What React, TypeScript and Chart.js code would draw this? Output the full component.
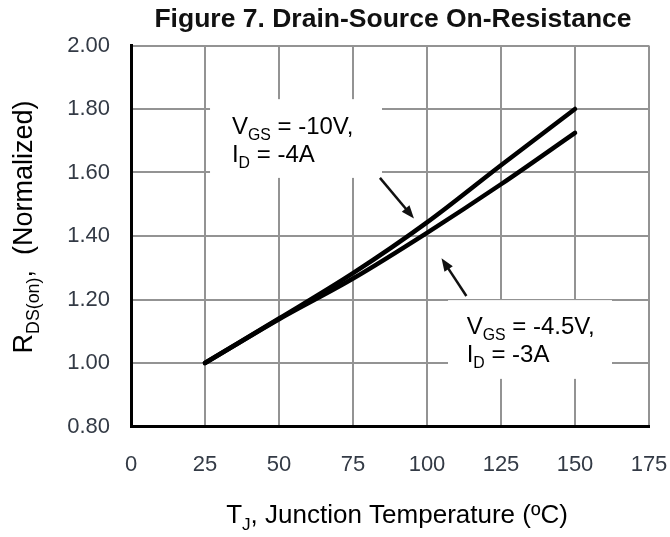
import React, { useEffect, useRef } from 'react';
import { Chart, registerables } from 'chart.js';

Chart.register(...registerables);

// ---- data ----
const temperatures = [25, 50, 75, 100, 125, 150];
const rdsVgs10 = [1.0, 1.14, 1.283, 1.443, 1.623, 1.8];
const rdsVgs45 = [1.0, 1.138, 1.266, 1.41, 1.563, 1.725];
const xTickValues = [0, 25, 50, 75, 100, 125, 150, 175];
const yTickValues = [0.8, 1.0, 1.2, 1.4, 1.6, 1.8, 2.0];

const chartTitle = 'Figure 7. Drain-Source On-Resistance';

type Seg = { t: string; sub?: boolean };
const xTitleSegs: Seg[] = [{ t: 'T' }, { t: 'J', sub: true }, { t: ', Junction Temperature (\u00BAC)' }];
const yTitleSegs: Seg[] = [{ t: 'R' }, { t: 'DS(on)', sub: true }, { t: ',  (Normalized)' }];

const note1Lines: Seg[][] = [
  [{ t: 'V' }, { t: 'GS', sub: true }, { t: ' = -10V,' }],
  [{ t: 'I' }, { t: 'D', sub: true }, { t: ' = -4A' }],
];
const note2Lines: Seg[][] = [
  [{ t: 'V' }, { t: 'GS', sub: true }, { t: ' = -4.5V,' }],
  [{ t: 'I' }, { t: 'D', sub: true }, { t: ' = -3A' }],
];
// annotation geometry in data units (x: °C, y: normalized R)
const note1Box = [26.7, 1.831, 84.8, 1.583];
const note1Text = [34.1, 1.721];
const note2Box = [107.1, 1.198, 162.5, 0.95];
const note2Text = [113.4, 1.091];
const arrow1 = [84.1, 1.583, 95.6, 1.455];
const arrow2 = [113.3, 1.211, 104.9, 1.33];

const FONT = '"Liberation Sans", Arial, Helvetica, sans-serif';
const TICK_COLOR = '#333a45';
const GRID_COLOR = '#939393';

function font(size: number, bold = false) {
  return `${bold ? 'bold ' : ''}${size}px ${FONT}`;
}

function richWidth(ctx: CanvasRenderingContext2D, segs: Seg[], size: number) {
  let w = 0;
  for (const s of segs) {
    ctx.font = font(s.sub ? size * 0.66 : size);
    w += ctx.measureText(s.t).width;
  }
  return w;
}

function drawRich(ctx: CanvasRenderingContext2D, segs: Seg[], x: number, y: number, size: number) {
  let cx = x;
  ctx.textBaseline = 'alphabetic';
  ctx.textAlign = 'left';
  for (const s of segs) {
    ctx.font = font(s.sub ? size * 0.66 : size);
    ctx.fillText(s.t, cx, s.sub ? y + size * 0.26 : y);
    cx += ctx.measureText(s.t).width;
  }
}

function drawArrow(ctx: CanvasRenderingContext2D, x1: number, y1: number, x2: number, y2: number) {
  const ang = Math.atan2(y2 - y1, x2 - x1);
  const head = 13;
  const half = 5;
  ctx.strokeStyle = '#111';
  ctx.fillStyle = '#111';
  ctx.lineWidth = 2.5;
  ctx.beginPath();
  ctx.moveTo(x1, y1);
  ctx.lineTo(x2 - Math.cos(ang) * head * 0.8, y2 - Math.sin(ang) * head * 0.8);
  ctx.stroke();
  ctx.beginPath();
  ctx.moveTo(x2, y2);
  ctx.lineTo(x2 - Math.cos(ang) * head + Math.sin(ang) * half, y2 - Math.sin(ang) * head - Math.cos(ang) * half);
  ctx.lineTo(x2 - Math.cos(ang) * head - Math.sin(ang) * half, y2 - Math.sin(ang) * head + Math.cos(ang) * half);
  ctx.closePath();
  ctx.fill();
}

const annotationPlugin = {
  id: 'figureAnnotations',
  beforeDatasetsDraw(chart: any) {
    const { ctx, scales } = chart;
    const xs = scales.x;
    const ys = scales.y;
    ctx.save();
    ctx.fillStyle = '#ffffff';
    for (const b of [note1Box, note2Box]) {
      const x0 = xs.getPixelForValue(b[0]);
      const y0 = ys.getPixelForValue(b[1]);
      const x1 = xs.getPixelForValue(b[2]);
      const y1 = ys.getPixelForValue(b[3]);
      ctx.fillRect(x0, y0, x1 - x0, y1 - y0);
    }
    ctx.restore();
  },
  afterDraw(chart: any) {
    const { ctx, scales, chartArea } = chart;
    const xs = scales.x;
    const ys = scales.y;
    ctx.save();
    ctx.fillStyle = '#000';
    const notes: [Seg[][], number[]][] = [
      [note1Lines, note1Text],
      [note2Lines, note2Text],
    ];
    for (const [lines, pos] of notes) {
      const x = xs.getPixelForValue(pos[0]);
      const y = ys.getPixelForValue(pos[1]);
      lines.forEach((segs, i) => drawRich(ctx, segs, x, y + i * 28, 24));
    }
    for (const a of [arrow1, arrow2]) {
      drawArrow(
        ctx,
        xs.getPixelForValue(a[0]),
        ys.getPixelForValue(a[1]),
        xs.getPixelForValue(a[2]),
        ys.getPixelForValue(a[3])
      );
    }
    const cx = (chartArea.left + chartArea.right) / 2;
    const cy = (chartArea.top + chartArea.bottom) / 2;
    // chart title
    ctx.fillStyle = '#111';
    ctx.font = font(26.5, true);
    ctx.textAlign = 'center';
    ctx.textBaseline = 'alphabetic';
    ctx.fillText(chartTitle, cx + 3, 26.5);
    // x title
    ctx.fillStyle = '#000';
    const wx = richWidth(ctx, xTitleSegs, 26);
    drawRich(ctx, xTitleSegs, cx + 7 - wx / 2, 523, 26);
    // y title
    const wy = richWidth(ctx, yTitleSegs, 27);
    ctx.translate(32, cy - 9);
    ctx.rotate(-Math.PI / 2);
    drawRich(ctx, yTitleSegs, -wy / 2, 0, 27);
    ctx.restore();
  },
};

export default function App() {
  const canvasRef = useRef<HTMLCanvasElement | null>(null);

  useEffect(() => {
    const canvas = canvasRef.current;
    if (!canvas) return;
    const lineStyle = {
      borderColor: '#000',
      borderWidth: 4.5,
      pointRadius: 0,
      fill: false,
      cubicInterpolationMode: 'monotone' as const,
      borderCapStyle: 'round' as const,
      borderJoinStyle: 'round' as const,
    };
    const chart = new Chart(canvas, {
      type: 'line',
      data: {
        datasets: [
          {
            label: 'VGS = -10V, ID = -4A',
            data: temperatures.map((t, i) => ({ x: t, y: rdsVgs10[i] })),
            ...lineStyle,
          },
          {
            label: 'VGS = -4.5V, ID = -3A',
            data: temperatures.map((t, i) => ({ x: t, y: rdsVgs45[i] })),
            ...lineStyle,
          },
        ],
      },
      options: {
        animation: false,
        responsive: false,
        devicePixelRatio: 1,
        layout: { padding: { top: 45.5, right: 21, left: 0, bottom: 0 } },
        plugins: {
          legend: { display: false },
          title: { display: false },
          tooltip: { enabled: false },
        },
        scales: {
          x: {
            type: 'linear',
            min: xTickValues[0],
            max: xTickValues[xTickValues.length - 1],
            afterBuildTicks: (scale: any) => {
              scale.ticks = xTickValues.map((v) => ({ value: v }));
            },
            afterFit: (scale: any) => {
              scale.height = 110.5;
              scale.paddingLeft = 0;
              scale.paddingRight = 0;
            },
            ticks: {
              font: { family: FONT, size: 22 },
              color: TICK_COLOR,
              padding: 25,
              maxRotation: 0,
              autoSkip: false,
              callback: (v: any) => String(v),
            },
            grid: { color: GRID_COLOR, lineWidth: 2, drawTicks: false },
            border: { display: true, color: '#000', width: 3 },
          },
          y: {
            type: 'linear',
            min: yTickValues[0],
            max: yTickValues[yTickValues.length - 1],
            afterBuildTicks: (scale: any) => {
              scale.ticks = yTickValues.map((v) => ({ value: v }));
            },
            afterFit: (scale: any) => {
              scale.width = 131;
              scale.paddingTop = 0;
              scale.paddingBottom = 0;
            },
            ticks: {
              font: { family: FONT, size: 22 },
              color: TICK_COLOR,
              padding: 21,
              autoSkip: false,
              callback: (v: any) => Number(v).toFixed(2),
            },
            grid: { color: GRID_COLOR, lineWidth: 2, drawTicks: false },
            border: { display: true, color: '#000', width: 3 },
          },
        },
      },
      plugins: [annotationPlugin],
    });
    return () => chart.destroy();
  }, []);

  return (
    <div style={{ position: 'absolute', left: 0, top: 0, width: 670, height: 537, background: '#fff' }}>
      <canvas ref={canvasRef} width={670} height={537} style={{ display: 'block' }} />
    </div>
  );
}
